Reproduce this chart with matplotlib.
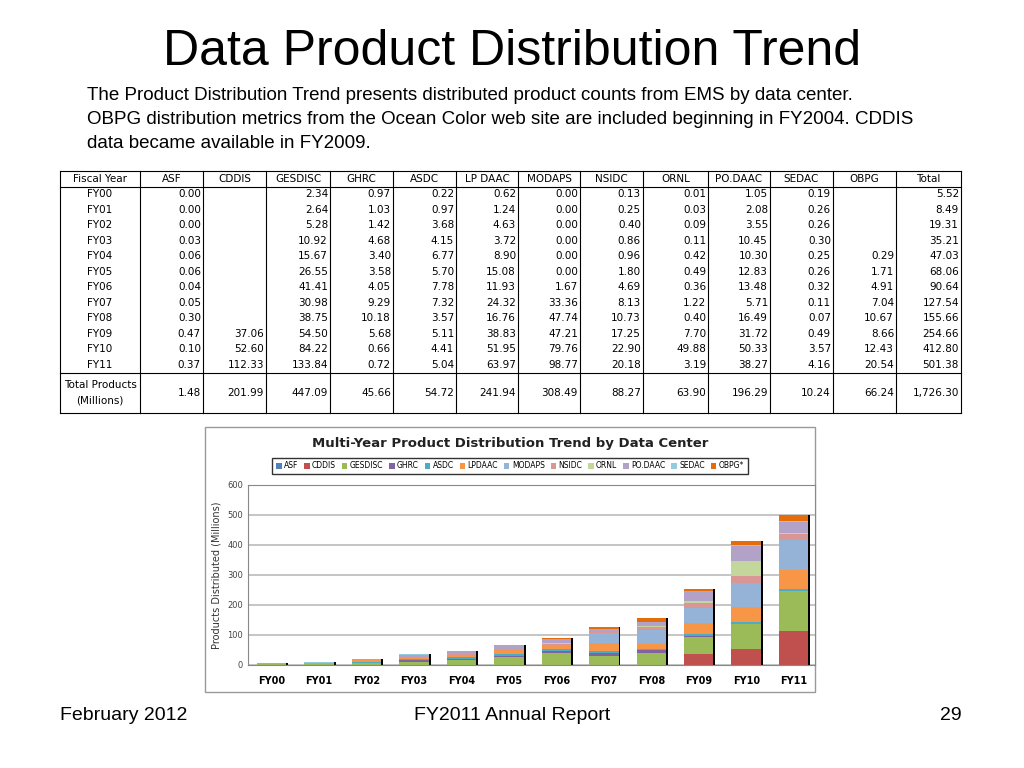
import matplotlib.pyplot as plt
import numpy as np

years = ["FY00", "FY01", "FY02", "FY03", "FY04", "FY05", "FY06", "FY07", "FY08", "FY09", "FY10", "FY11"]
centers = ["ASF", "CDDIS", "GESDISC", "GHRC", "ASDC", "LP DAAC", "MODAPS", "NSIDC", "ORNL", "PO.DAAC", "SEDAC", "OBPG"]
legend_names = ["ASF", "CDDIS", "GESDISC", "GHRC", "ASDC", "LPDAAC", "MODAPS", "NSIDC", "ORNL", "PO.DAAC", "SEDAC", "OBPG*"]
asf = [0.00, 0.00, 0.00, 0.03, 0.06, 0.06, 0.04, 0.05, 0.30, 0.47, 0.10, 0.37]
cddis = [None] * 9 + [37.06, 52.60, 112.33]
gesdisc = [2.34, 2.64, 5.28, 10.92, 15.67, 26.55, 41.41, 30.98, 38.75, 54.50, 84.22, 133.84]
ghrc = [0.97, 1.03, 1.42, 4.68, 3.40, 3.58, 4.05, 9.29, 10.18, 5.68, 0.66, 0.72]
asdc = [0.22, 0.97, 3.68, 4.15, 6.77, 5.70, 7.78, 7.32, 3.57, 5.11, 4.41, 5.04]
lpdaac = [0.62, 1.24, 4.63, 3.72, 8.90, 15.08, 11.93, 24.32, 16.76, 38.83, 51.95, 63.97]
modaps = [0.00, 0.00, 0.00, 0.00, 0.00, 0.00, 1.67, 33.36, 47.74, 47.21, 79.76, 98.77]
nsidc = [0.13, 0.25, 0.40, 0.86, 0.96, 1.80, 4.69, 8.13, 10.73, 17.25, 22.90, 20.18]
ornl = [0.01, 0.03, 0.09, 0.11, 0.42, 0.49, 0.36, 1.22, 0.40, 7.70, 49.88, 3.19]
podaac = [1.05, 2.08, 3.55, 10.45, 10.30, 12.83, 13.48, 5.71, 16.49, 31.72, 50.33, 38.27]
sedac = [0.19, 0.26, 0.26, 0.30, 0.25, 0.26, 0.32, 0.11, 0.07, 0.49, 3.57, 4.16]
obpg = [None] * 4 + [0.29, 1.71, 4.91, 7.04, 10.67, 8.66, 12.43, 20.54]
total = [5.52, 8.49, 19.31, 35.21, 47.03, 68.06, 90.64, 127.54, 155.66, 254.66, 412.80, 501.38]
col_totals = ["1.48", "201.99", "447.09", "45.66", "54.72", "241.94", "308.49", "88.27", "63.90", "196.29", "10.24", "66.24", "1,726.30"]

series = [asf, cddis, gesdisc, ghrc, asdc, lpdaac, modaps, nsidc, ornl, podaac, sedac, obpg]
colors = ["#4F81BD", "#C0504D", "#9BBB59", "#8064A2", "#4BACC6", "#F79646",
          "#95B3D7", "#D99694", "#C3D69B", "#B3A2C7", "#93CDDD", "#E46C0A"]

W, H = 1024, 768
fig = plt.figure(figsize=(10.24, 7.68), dpi=100)
fig.patch.set_facecolor("white")

def fx(x):
    return x / W

def fy(y):
    return 1 - y / H

fig.text(fx(512), fy(52), "Data Product Distribution Trend", ha="center", va="center", fontsize=36, family="Liberation Sans")
desc = ["The Product Distribution Trend presents distributed product counts from EMS by data center.",
        "OBPG distribution metrics from the Ocean Color web site are included beginning in FY2004. CDDIS",
        "data became available in FY2009."]
for i, line in enumerate(desc):
    fig.text(fx(87), fy(95 + i * 24), line, ha="left", va="center", fontsize=13.5, family="Liberation Sans")

# table
cols = [60, 140, 203, 266, 330, 393, 456, 518, 580, 643, 708, 770, 833, 896, 961]
row_top = 171
row_h = 15.5
header = ["Fiscal Year"] + centers + ["Total"]
tab = fig.add_axes([0, 0, 1, 1])
tab.set_xlim(0, W)
tab.set_ylim(H, 0)
tab.axis("off")
n_rows = 1 + len(years)
bottom = row_top + row_h * n_rows
for c in cols:
    tab.plot([c, c], [row_top, 413], color="black", lw=0.8)
for y in [row_top, row_top + row_h, bottom, 413]:
    tab.plot([cols[0], cols[-1]], [y, y], color="black", lw=0.8)
fs = 7.5
for j, h in enumerate(header):
    tab.text((cols[j] + cols[j + 1]) / 2, row_top + row_h / 2, h, ha="center", va="center", fontsize=fs)
for i, yr in enumerate(years):
    yc = row_top + row_h * (i + 1.5)
    tab.text((cols[0] + cols[1]) / 2, yc, yr, ha="center", va="center", fontsize=fs)
    for j, s in enumerate(series + [total]):
        v = s[i]
        if v is None:
            continue
        tab.text(cols[j + 2] - 2, yc, "%.2f" % v, ha="right", va="center", fontsize=fs)
yc = (bottom + 413) / 2
tab.text((cols[0] + cols[1]) / 2, yc, "Total Products\n(Millions)", ha="center", va="center", fontsize=fs, linespacing=1.6)
for j, t in enumerate(col_totals):
    tab.text(cols[j + 2] - 2, yc, t, ha="right", va="center", fontsize=fs)

# chart frame
tab.add_patch(plt.Rectangle((205, 427), 610, 265, fill=False, edgecolor="#999999", lw=1))
tab.text(510, 443, "Multi-Year Product Distribution Trend by Data Center", ha="center", va="center",
         fontsize=9.5, fontweight="bold", color="#222222")
tab.text(60, 716, "February 2012", ha="left", va="center", fontsize=14, family="Liberation Sans")
tab.text(512, 716, "FY2011 Annual Report", ha="center", va="center", fontsize=14, family="Liberation Sans")
tab.text(962, 716, "29", ha="right", va="center", fontsize=14, family="Liberation Sans")

ax = fig.add_axes([fx(248), fy(665), fx(815 - 248), fy(485) - fy(665)])
x = np.arange(len(years))
base = np.zeros(len(years))
for s, c, name in zip(series, colors, legend_names):
    vals = np.array([0 if v is None else v for v in s])
    ax.bar(x + 0.04, vals, 0.62, bottom=base, color="black", zorder=1)
    ax.bar(x, vals, 0.62, bottom=base, color=c, label=name, zorder=2)
    base += vals
ax.set_ylim(0, 600)
ax.set_xlim(-0.5, 11.45)
ax.set_yticks(range(0, 601, 100))
ax.yaxis.grid(True, color="#bbbbbb", lw=1.2)
ax.set_axisbelow(True)
ax.set_xticks(x)
ax.set_xticklabels(years, fontsize=7, fontweight="bold")
ax.tick_params(axis="y", labelsize=6, length=0, colors="#444444")
ax.tick_params(axis="x", length=0, pad=8)
ax.set_ylabel("Products Distributed (Millions)", fontsize=7, color="#333333")
for sp in ax.spines.values():
    sp.set_color("#888888")
leg = fig.legend(*ax.get_legend_handles_labels(), loc="center", bbox_to_anchor=(fx(510), fy(466)),
                 ncol=12, fontsize=5.5, handlelength=0.7, handletextpad=0.3, columnspacing=0.8,
                 frameon=True, fancybox=False, edgecolor="black", borderpad=0.5)

fig.savefig("out.png", dpi=100)
